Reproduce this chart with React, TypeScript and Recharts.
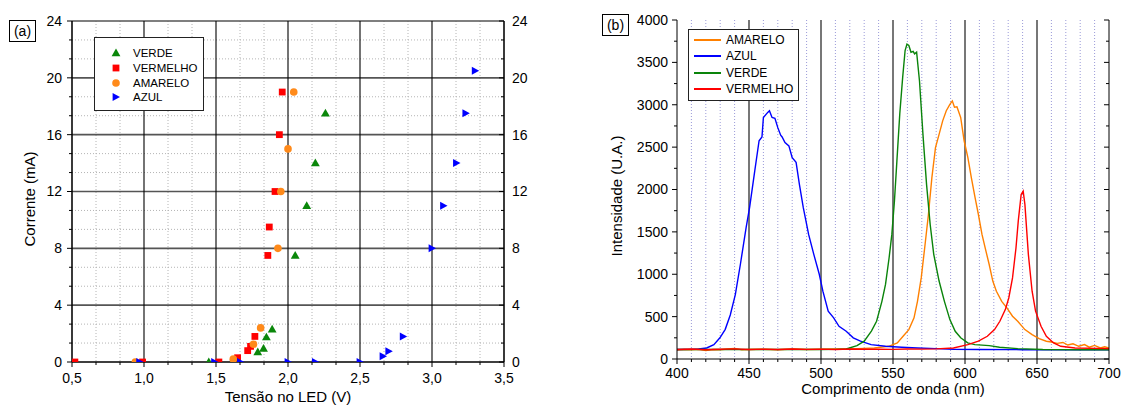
import React from 'react';
import { ScatterChart, Scatter, LineChart, Line, XAxis, YAxis, CartesianGrid, Legend } from 'recharts';

const FONT = '"Liberation Sans", Arial, Helvetica, sans-serif';

// ---------- (a) corrente x tensão ----------
const voltTicks = [0.5, 1.0, 1.5, 2.0, 2.5, 3.0, 3.5];
const currentTicks = [0, 4, 8, 12, 16, 20, 24];

// [tensão (V), corrente (mA)]
const verdeIV: [number, number][] = [
  [1.45, 0], [1.79, 0.7], [1.83, 0.95], [1.85, 1.75], [1.89, 2.3],
  [2.05, 7.5], [2.13, 11], [2.19, 14], [2.26, 17.5],
];
const vermelhoIV: [number, number][] = [
  [0.52, 0], [0.99, 0], [1.52, 0], [1.65, 0.3], [1.72, 0.8], [1.74, 1.1], [1.77, 1.8],
  [1.86, 7.5], [1.87, 9.5], [1.91, 12], [1.94, 16], [1.96, 19],
];
const amareloIV: [number, number][] = [
  [0.94, 0], [1.62, 0.2], [1.76, 1.25], [1.81, 2.4],
  [1.93, 8], [1.95, 12], [2.0, 15], [2.04, 19],
];
const azulIV: [number, number][] = [
  [0.97, 0], [1.49, 0], [1.67, 0], [2.0, 0], [2.19, 0], [2.5, 0],
  [2.66, 0.4], [2.7, 0.75], [2.8, 1.8], [3.0, 8], [3.08, 11], [3.17, 14], [3.235, 17.5], [3.3, 20.5],
];

// ---------- (b) espectros ----------
const nmTicks = [400, 450, 500, 550, 600, 650, 700];
const intensityTicks = [0, 500, 1000, 1500, 2000, 2500, 3000, 3500, 4000];

// [comprimento de onda (nm), intensidade (U.A.)]
const amareloSpec: [number, number][] = [
  [400, 105], [405, 112], [410, 108], [415, 115], [420, 100], [425, 112], [430, 110], [435, 118],
  [440, 125], [445, 108], [450, 112], [460, 115], [470, 110], [480, 118], [490, 112], [500, 115],
  [510, 118], [520, 120], [530, 125], [537, 130], [547, 150], [553, 190], [557, 268], [561, 347],
  [564.6, 485], [567, 680], [569.6, 957], [572, 1310], [574.6, 1705], [577, 2140], [579.5, 2495],
  [582, 2650], [584.5, 2810], [587, 2930], [589.5, 3005], [591.2, 3045], [592.7, 2970], [594.4, 2975],
  [597, 2850], [599.4, 2575], [602, 2375], [604.4, 2140], [607, 1905], [609.3, 1705], [611.8, 1470],
  [614.3, 1290], [616.8, 1115], [619.3, 920], [621.8, 800], [625.5, 680], [629.2, 600], [633, 505],
  [636.6, 445], [641.6, 347], [646.6, 288], [651.5, 240], [656.5, 210], [660, 200], [664, 185],
  [668, 195], [671.4, 165], [675, 180], [679, 150], [683, 170], [686.3, 140], [690, 160], [694, 130],
  [697, 145], [700, 130],
];
const azulSpec: [number, number][] = [
  [400, 112], [410, 113], [415, 118], [420.6, 130], [425.6, 170], [429.8, 250], [433.5, 350],
  [437, 520], [440.5, 760], [444, 1115], [448, 1550], [450.4, 1785], [454, 2220], [457, 2575],
  [459, 2620], [460, 2850], [463, 2910], [464.2, 2930], [466, 2850], [468, 2840], [470, 2730],
  [472, 2640], [473, 2620], [475, 2555], [477.7, 2515], [480, 2375], [482.7, 2320], [485, 2060],
  [487.7, 1785], [491.4, 1470], [495, 1235], [498.8, 1000], [501.3, 800], [505, 565], [508.8, 485],
  [512.5, 386], [517.5, 327], [522.4, 250], [527.4, 210], [534.8, 170], [544.8, 150], [556, 138],
  [567, 130], [580, 122], [592, 115], [610, 112], [640, 110], [670, 110], [700, 110],
];
const verdeSpec: [number, number][] = [
  [400, 112], [450, 112], [500, 112], [510, 113], [517.5, 118], [525, 158], [530, 210], [535, 330],
  [538.6, 445], [542.3, 680], [544.8, 880], [547.3, 1195], [549.2, 1470], [551, 1865], [552.7, 2335],
  [554.7, 2890], [556.7, 3320], [558.4, 3640], [559.7, 3715], [561, 3700], [562.5, 3620], [564, 3630],
  [565, 3600], [566.4, 3620], [568.4, 3280], [570.8, 2650], [573.3, 2060], [575.8, 1590], [578.3, 1235],
  [582, 920], [585.7, 680], [589.5, 465], [593.2, 327], [597, 250], [601.9, 190], [606.9, 170],
  [616.8, 158], [624, 138], [636.6, 122], [654, 112], [680, 110], [700, 110],
];
const vermelhoSpec: [number, number][] = [
  [400, 112], [410, 118], [420, 110], [430, 115], [440, 120], [450, 112], [460, 116], [470, 112],
  [480, 118], [490, 114], [500, 116], [510, 112], [520, 118], [530, 115], [540, 117], [550, 114],
  [560, 118], [570, 116], [580, 120], [592, 130], [602, 170], [609.3, 210], [615.5, 268], [620.5, 347],
  [624.2, 445], [628, 583], [630.4, 720], [633, 957], [635.4, 1310], [637, 1630], [639, 1940],
  [640.4, 1980], [641.6, 1825], [644, 1235], [646.6, 800], [649, 565], [652.8, 386], [656.5, 268],
  [661.5, 190], [666.5, 150], [676.4, 130], [700, 122],
];

const GREEN = '#0a870a';
const RED = '#ff0000';
const ORANGE = '#ff8a1a';
const BLUE = '#0000ff';

const toXY = (pts: [number, number][]) => pts.map(([x, y]) => ({ x, y }));

const ivSeries = [
  { name: 'VERDE', color: GREEN, shape: 'triangle', data: toXY(verdeIV) },
  { name: 'VERMELHO', color: RED, shape: 'square', data: toXY(vermelhoIV) },
  { name: 'AMARELO', color: ORANGE, shape: 'circle', data: toXY(amareloIV) },
  { name: 'AZUL', color: BLUE, shape: 'right', data: toXY(azulIV) },
];

const specSeries = [
  { name: 'AMARELO', color: '#ff8000', data: toXY(amareloSpec) },
  { name: 'AZUL', color: BLUE, data: toXY(azulSpec) },
  { name: 'VERDE', color: '#0a840a', data: toXY(verdeSpec) },
  { name: 'VERMELHO', color: RED, data: toXY(vermelhoSpec) },
];

// minor ticks between majors
const withMinor = (major: number[], n: number) => {
  const out = [...major];
  major.slice(1).forEach((m, i) => {
    for (let k = 1; k < n; k++) out.push(major[i] + ((m - major[i]) * k) / n);
  });
  return out.sort((a, b) => a - b);
};
const minorOnly = (major: number[], n: number) =>
  withMinor(major, n).filter((v) => !major.some((m) => Math.abs(m - v) < 1e-6));
const isMajor = (v: number, major: number[]) => major.some((m) => Math.abs(m - v) < 1e-6);
const comma = (v: number) => v.toFixed(1).replace('.', ',');

type Side = 'bottom' | 'top' | 'left' | 'right';

// draws its own tick mark (outward on bottom/left, inward on top/right) plus the label
const makeTick = (side: Side, major: number[], fmt?: (v: number) => string, gap = 0) => (props: any) => {
  const { x, y, payload } = props;
  const big = isMajor(payload.value, major);
  const len = big ? 5 : 3;
  const label = fmt && big ? fmt(payload.value) : null;
  const ln = { stroke: '#000', strokeWidth: 1 };
  const txt = { fontSize: 14, fill: '#000', fontFamily: FONT };
  if (side === 'bottom') {
    return (
      <g>
        <line x1={x} x2={x} y1={y} y2={y + len} {...ln} />
        {label && <text x={x} y={y + gap} textAnchor="middle" {...txt}>{label}</text>}
      </g>
    );
  }
  if (side === 'top') {
    return <g><line x1={x} x2={x} y1={y} y2={y + len} {...ln} /></g>;
  }
  if (side === 'left') {
    return (
      <g>
        <line x1={x - len} x2={x} y1={y} y2={y} {...ln} />
        {label && <text x={x - gap} y={y} dy="0.35em" textAnchor="end" {...txt}>{label}</text>}
      </g>
    );
  }
  return (
    <g>
      <line x1={x - len} x2={x} y1={y} y2={y} {...ln} />
      {label && <text x={x + gap} y={y} dy="0.35em" textAnchor="start" {...txt}>{label}</text>}
    </g>
  );
};

const marker = (kind: string, color: string) => (p: any) => {
  const { cx, cy } = p;
  if (cx == null || cy == null) return <g />;
  if (kind === 'triangle')
    return <polygon points={`${cx},${cy - 4.5} ${cx + 4.4},${cy + 3.2} ${cx - 4.4},${cy + 3.2}`} fill={color} />;
  if (kind === 'square') return <rect x={cx - 3.4} y={cy - 3.4} width={6.8} height={6.8} fill={color} />;
  if (kind === 'circle') return <circle cx={cx} cy={cy} r={3.8} fill={color} />;
  return <polygon points={`${cx - 3.4},${cy - 4} ${cx + 4},${cy} ${cx - 3.4},${cy + 4}`} fill={color} />;
};

const IVLegend = () => (
  <div style={{ border: '1px solid #222', background: '#fff', width: 110, height: 74, boxSizing: 'border-box', paddingTop: 8, fontFamily: FONT }}>
    {ivSeries.map((s) => (
      <div key={s.name} style={{ display: 'flex', alignItems: 'center', height: 14.7 }}>
        <svg width={38} height={12} style={{ flex: 'none' }}>
          {marker(s.shape, s.color)({ cx: 21, cy: 6 })}
        </svg>
        <span style={{ fontSize: 11.5, color: '#000', lineHeight: '12px' }}>{s.name}</span>
      </div>
    ))}
  </div>
);

const SpecLegend = () => (
  <div style={{ border: '1px solid #222', background: '#fff', width: 111, height: 72, boxSizing: 'border-box', paddingTop: 2, fontFamily: FONT }}>
    {specSeries.map((s) => (
      <div key={s.name} style={{ display: 'flex', alignItems: 'center', height: 16.3 }}>
        <svg width={37} height={12} style={{ flex: 'none' }}>
          <line x1={5} x2={32} y1={6} y2={6} stroke={s.color} strokeWidth={2} />
        </svg>
        <span style={{ fontSize: 12, color: '#000', lineHeight: '12px' }}>{s.name}</span>
      </div>
    ))}
  </div>
);

const IVChart = () => {
  const xAll = withMinor(voltTicks, 3);
  const yAll = withMinor(currentTicks, 3);
  return (
    <ScatterChart width={560} height={407} margin={{ top: 21, right: 0, bottom: 0, left: 0 }}>
      <CartesianGrid xAxisId="x" yAxisId="y" horizontalValues={minorOnly(currentTicks, 3)} verticalValues={minorOnly(voltTicks, 3)} stroke="#b4b4b4" strokeDasharray="1 2" />
      <CartesianGrid xAxisId="x" yAxisId="y" vertical={false} horizontalValues={currentTicks} stroke="#555" strokeWidth={1.6} />
      <CartesianGrid xAxisId="x" yAxisId="y" horizontal={false} verticalValues={voltTicks} stroke="#000" strokeWidth={1.1} />
      <XAxis xAxisId="x" type="number" dataKey="x" domain={[0.5, 3.5]} allowDataOverflow ticks={xAll} interval={0}
        tickLine={false} tickSize={0} tickMargin={0} height={45} axisLine={{ stroke: '#000' }}
        tick={makeTick('bottom', voltTicks, comma, 21)} />
      <XAxis xAxisId="top" orientation="top" type="number" domain={[0.5, 3.5]} allowDataOverflow ticks={xAll} interval={0}
        tickLine={false} tickSize={0} tickMargin={0} height={0} axisLine={{ stroke: '#000' }}
        tick={makeTick('top', voltTicks)} />
      <YAxis yAxisId="y" type="number" dataKey="y" domain={[0, 24]} allowDataOverflow ticks={yAll} interval={0}
        tickLine={false} tickSize={0} tickMargin={0} width={72} axisLine={{ stroke: '#000' }}
        tick={makeTick('left', currentTicks, (v) => String(v), 10)} />
      <YAxis yAxisId="right" orientation="right" type="number" domain={[0, 24]} allowDataOverflow ticks={yAll} interval={0}
        tickLine={false} tickSize={0} tickMargin={0} width={56} axisLine={{ stroke: '#000' }}
        tick={makeTick('right', currentTicks, (v) => String(v), 8)} />
      {ivSeries.map((s) => (
        <Scatter key={s.name} name={s.name} data={s.data} xAxisId="x" yAxisId="y" fill={s.color}
          shape={marker(s.shape, s.color)} isAnimationActive={false} />
      ))}
      <Legend layout="vertical" align="center" verticalAlign="middle"
        wrapperStyle={{ position: 'absolute', left: 94, top: 37, width: 110, height: 74 }}
        content={() => <IVLegend />} />
    </ScatterChart>
  );
};

const SpectraChart = () => {
  const xAll = withMinor(nmTicks, 5);
  const yAll = withMinor(intensityTicks, 2);
  return (
    <LineChart width={561} height={407} margin={{ top: 20, right: 0, bottom: 0, left: 0 }}>
      <CartesianGrid xAxisId="x" yAxisId="y" horizontal={false} verticalValues={minorOnly(nmTicks, 5)} stroke="#9a9ad8" strokeDasharray="1 2" />
      <CartesianGrid xAxisId="x" yAxisId="y" horizontal={false} verticalValues={nmTicks.slice(1, -1)} stroke="#555" strokeWidth={1.6} />
      <XAxis xAxisId="x" type="number" dataKey="x" domain={[400, 700]} allowDataOverflow ticks={xAll} interval={0}
        tickLine={false} tickSize={0} tickMargin={0} height={48} axisLine={{ stroke: '#000' }}
        tick={makeTick('bottom', nmTicks, (v) => String(v), 19)} />
      <XAxis xAxisId="top" orientation="top" type="number" domain={[400, 700]} allowDataOverflow ticks={xAll} interval={0}
        tickLine={false} tickSize={0} tickMargin={0} height={0} axisLine={{ stroke: '#000' }}
        tick={makeTick('top', nmTicks)} />
      <YAxis yAxisId="y" type="number" dataKey="y" domain={[0, 4000]} allowDataOverflow ticks={yAll} interval={0}
        tickLine={false} tickSize={0} tickMargin={0} width={117} axisLine={{ stroke: '#000' }}
        tick={makeTick('left', intensityTicks, (v) => String(v), 9)} />
      <YAxis yAxisId="right" orientation="right" type="number" domain={[0, 4000]} allowDataOverflow ticks={yAll} interval={0}
        tickLine={false} tickSize={0} tickMargin={0} width={12} axisLine={{ stroke: '#000' }}
        tick={makeTick('right', intensityTicks)} />
      {specSeries.map((s) => (
        <Line key={s.name} name={s.name} data={s.data} dataKey="y" xAxisId="x" yAxisId="y" type="linear"
          stroke={s.color} strokeWidth={1.4} dot={false} activeDot={false} isAnimationActive={false} />
      ))}
      <Legend layout="vertical" align="center" verticalAlign="middle"
        wrapperStyle={{ position: 'absolute', left: 128, top: 29, width: 111, height: 72 }}
        content={() => <SpecLegend />} />
    </LineChart>
  );
};

export default function App() {
  return (
    <div style={{ position: 'absolute', left: 0, top: 0, width: 1121, height: 407, overflow: 'hidden', background: '#fff', fontFamily: FONT }}>
      <div style={{ position: 'absolute', left: 0, top: 0 }}>
        <IVChart />
      </div>
      <div style={{ position: 'absolute', left: 560, top: 0 }}>
        <SpectraChart />
      </div>
      <svg width={1121} height={407} style={{ position: 'absolute', left: 0, top: 0, pointerEvents: 'none' }} fontFamily={FONT}>
        <rect x={9.5} y={20.5} width={26} height={21} fill="#fff" stroke="#000" />
        <text x={22.5} y={31} dy="0.35em" textAnchor="middle" fontSize={14} fill="#000">(a)</text>
        <rect x={602.5} y={14.5} width={26} height={21} fill="#fff" stroke="#000" />
        <text x={615.5} y={25} dy="0.35em" textAnchor="middle" fontSize={14} fill="#000">(b)</text>
        <text transform="translate(30,199) rotate(-90)" dy="0.35em" textAnchor="middle" fontSize={15} fill="#000">Corrente (mA)</text>
        <text x={288} y={402} textAnchor="middle" fontSize={15} fill="#000">Tensão no LED (V)</text>
        <text transform="translate(617,196) rotate(-90)" dy="0.35em" textAnchor="middle" fontSize={15} fill="#000">Intensidade (U.A.)</text>
        <text x={893} y={394} textAnchor="middle" fontSize={15} fill="#000">Comprimento de onda (nm)</text>
      </svg>
    </div>
  );
}
